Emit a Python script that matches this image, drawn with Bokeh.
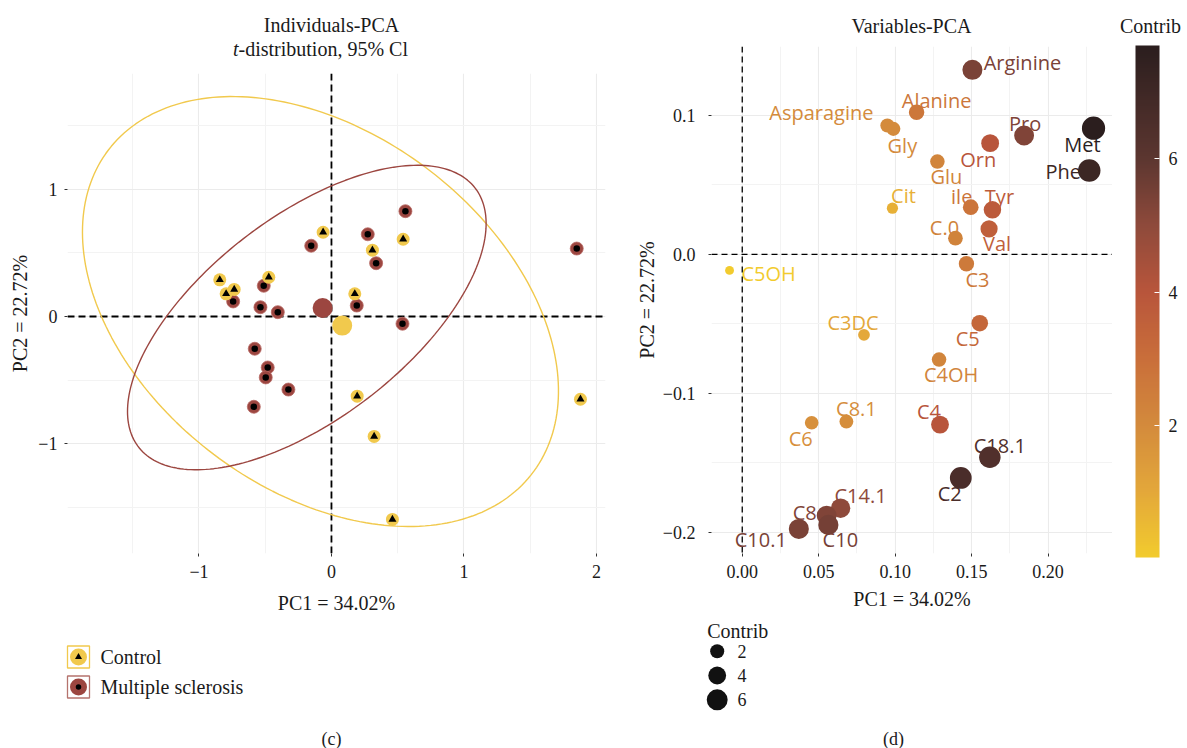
import numpy as np
from bokeh.plotting import figure
from bokeh.layouts import row, column
from bokeh.models import (ColumnDataSource, Range1d, FixedTicker, Span,
                          ColorBar, LinearColorMapper)
from bokeh.transform import transform
from bokeh.core.properties import value
from bokeh.embed import file_html
from bokeh.resources import INLINE

# ---------------- data : individuals ----------------
groups = ["Control", "Multiple sclerosis"]
ctrl_pc1 = [-0.843, -0.795, -0.734, -0.473, -0.063, 0.309, 0.541, 0.176, 0.194, 0.322, 0.460, 1.879]
ctrl_pc2 = [0.288, 0.178, 0.212, 0.308, 0.661, 0.520, 0.606, 0.178, -0.625, -0.941, -1.592, -0.649]
ms_pc1 = [0.558, 0.274, -0.153, 0.337, -0.511, -0.742, -0.536, -0.405, 0.191, 0.536,
          -0.579, -0.481, -0.496, -0.325, -0.586, 1.851]
ms_pc2 = [0.826, 0.645, 0.555, 0.418, 0.241, 0.118, 0.073, 0.034, 0.086, -0.057,
          -0.253, -0.400, -0.478, -0.573, -0.708, 0.533]
# 95% t-distribution ellipses: centre and shape matrix [sxx, sxy, syy]
ell_ctrl_center = [-0.083, 0.039]
ell_ctrl_shape = [3.226, -1.12, 2.843]
ell_ms_center = [-0.186, -0.008]
ell_ms_shape = [1.831, 0.997, 1.426]

ind_x_ticks = [-1, 0, 1, 2]
ind_x_labels = ["\u22121", "0", "1", "2"]
ind_y_ticks = [-1, 0, 1]
ind_y_labels = ["\u22121", "0", "1"]

# ---------------- data : variables ----------------
var_names = ["Arginine", "Alanine", "Asparagine", "Gly", "Pro", "Orn", "Met", "Phe", "Glu",
             "Cit", "ile", "Tyr", "Val", "C.0", "C3", "C5OH", "C3DC", "C5", "C4OH", "C8.1",
             "C6", "C4", "C18.1", "C2", "C14.1", "C8", "C10", "C10.1"]
var_pc1 = [0.1505, 0.1140, 0.0949, 0.0988, 0.1843, 0.1621, 0.2297, 0.2269, 0.1276,
           0.0982, 0.1494, 0.1636, 0.1614, 0.1394, 0.1466, -0.0083, 0.0796, 0.1553, 0.1287, 0.0681,
           0.0454, 0.1293, 0.1619, 0.1429, 0.0643, 0.0552, 0.0563, 0.0370]
var_pc2 = [0.1329, 0.1024, 0.0928, 0.0904, 0.0856, 0.0801, 0.0909, 0.0604, 0.0669,
           0.0333, 0.0340, 0.0321, 0.0184, 0.0117, -0.0067, -0.0115, -0.0579, -0.0495, -0.0757, -0.1203,
           -0.1212, -0.1225, -0.1460, -0.1609, -0.1827, -0.1880, -0.1947, -0.1976]
var_contrib = [5.4, 2.7, 2.0, 2.0, 5.3, 4.0, 7.7, 7.1, 2.2,
               0.8, 2.8, 3.8, 3.6, 2.3, 2.6, 0.02, 1.0, 3.3, 2.2, 1.9,
               1.8, 4.0, 6.4, 6.6, 5.0, 5.3, 5.5, 5.4]
var_x_ticks = [0.0, 0.05, 0.10, 0.15, 0.20]
var_x_labels = ["0.00", "0.05", "0.10", "0.15", "0.20"]
var_y_ticks = [-0.2, -0.1, 0.0, 0.1]
var_y_labels = ["\u22120.2", "\u22120.1", "0.0", "0.1"]
contrib_ticks = [2, 4, 6]

# ---------------- layout / style (not data) ----------------
label_dx = [50, 20, -66, 9, 1, -12, -11, -26, 9,
            11, -9, 7, 8, -11, 11, 39, -11, -12, 12, 10,
            -11, -11, 10, -11, 20, -22, 12, -38]
label_dy = [-7, -12, -13, 17, -12, 16, 16, 1, 15,
            -13, -11, -13, 15, -11, 16, 3, -12, 15, 15, -13,
            16, -13, -12, 16, -13, -3, 15, 11]

SERIF = "Liberation Serif"
SANS = "Open Sans"
TXT = "#1a1a1a"
CTRL_COL = "#f1c94d"
MS_COL = "#9c4640"
GRID = "#ebebeb"
MINOR_GRID = "#f3f3f3"

stops = [(0.00, "#f2cb2e"), (0.13, "#e3a73a"), (0.26, "#d38a3c"), (0.39, "#c96e3a"),
         (0.52, "#b8553b"), (0.65, "#8e4a3b"), (0.78, "#5c3630"), (1.00, "#2b1e1e")]


def hex2rgb(h):
    return np.array([int(h[i:i + 2], 16) for i in (1, 3, 5)], dtype=float)


def make_palette(stops, n=256):
    pos = np.array([s[0] for s in stops])
    cols = np.array([hex2rgb(s[1]) for s in stops])
    out = []
    for t in np.linspace(0, 1, n):
        rgb = [np.interp(t, pos, cols[:, k]) for k in range(3)]
        out.append("#%02x%02x%02x" % tuple(int(round(v)) for v in rgb))
    return out


def size_of(c):
    return float(np.sqrt(78 + 60 * c))


def ellipse_xy(center, shape, n=240):
    m = np.array([[shape[0], shape[1]], [shape[1], shape[2]]])
    vals, vecs = np.linalg.eigh(m)
    t = np.linspace(0, 2 * np.pi, n)
    circ = np.vstack([np.cos(t), np.sin(t)])
    pts = vecs @ np.diag(np.sqrt(vals)) @ circ
    return pts[0] + center[0], pts[1] + center[1]


def bare(p):
    p.outline_line_color = None
    p.grid.visible = False
    return p


def strip(width, height, x0, x1, left, right):
    # a text-only strip whose frame maps 1:1 to page pixels
    return bare(figure(width=width, height=height, x_range=Range1d(x0, x1),
                       y_range=Range1d(height, 0), x_axis_type=None, y_axis_type=None,
                       title=None, min_border_left=left, min_border_right=right,
                       min_border_top=0, min_border_bottom=0,
                       output_backend="svg", toolbar_location=None))


def style_axes(p, xticks, xlabels, xminor, yticks, ylabels, yminor, xlab, ylab, x_stand, y_stand):
    p.xaxis.ticker = FixedTicker(ticks=xticks, minor_ticks=xminor)
    p.yaxis.ticker = FixedTicker(ticks=yticks, minor_ticks=yminor)
    p.xaxis.major_label_overrides = dict(zip(xticks, xlabels))
    p.yaxis.major_label_overrides = dict(zip(yticks, ylabels))
    p.xaxis.axis_label = xlab
    p.yaxis.axis_label = ylab
    for ax in (p.xaxis[0], p.yaxis[0]):
        ax.axis_line_color = None
        ax.major_tick_line_color = "#333333"
        ax.major_tick_in = 0
        ax.major_tick_out = 3
        ax.minor_tick_line_color = None
        ax.major_label_text_font = SERIF
        ax.major_label_text_font_size = "18px"
        ax.major_label_text_color = TXT
        ax.axis_label_text_font = SERIF
        ax.axis_label_text_font_style = "normal"
        ax.axis_label_text_font_size = "20px"
        ax.axis_label_text_color = TXT
    p.xaxis.major_label_standoff = x_stand[0]
    p.xaxis.axis_label_standoff = x_stand[1]
    p.yaxis.major_label_standoff = y_stand[0]
    p.yaxis.axis_label_standoff = y_stand[1]
    for g in (p.xgrid[0], p.ygrid[0]):
        g.grid_line_color = GRID
        g.grid_line_width = 1.1
        g.minor_grid_line_color = MINOR_GRID
        g.minor_grid_line_width = 1


def title_text(p, x, y, txt, align="center", style="normal"):
    p.text([x], [y], text=[txt], text_align=align, text_baseline="middle",
           text_font=value(SERIF), text_font_size="20px", text_font_style=style, text_color=TXT)


# =============== left panel title strip ===============
pTL = strip(627, 62, 67, 605, 67, 22)
title_text(pTL, 331, 24, "Individuals-PCA")
title_text(pTL, 238, 48, "t", align="right", style="italic")
title_text(pTL, 238, 48, "-distribution, 95% Cl", align="left")

# =============== left panel : individuals ===============
pL = figure(width=627, height=558, title=None,
            x_range=Range1d(-1.992, 2.068), y_range=Range1d(-1.859, 1.906),
            min_border_left=67, min_border_right=22, min_border_top=11, min_border_bottom=67,
            output_backend="svg", toolbar_location=None)
pL.outline_line_color = None
style_axes(pL, ind_x_ticks, ind_x_labels, [-1.5, -0.5, 0.5, 1.5],
           ind_y_ticks, ind_y_labels, [-1.5, -0.5, 0.5, 1.5],
           "PC1 = 34.02%", "PC2 = 22.72%", (7, 11), (6, 4))

pL.add_layout(Span(location=0, dimension="height", line_color="black", line_width=1.8,
                   line_dash="7 4", level="underlay"))
pL.add_layout(Span(location=0, dimension="width", line_color="black", line_width=1.8,
                   line_dash="7 4", level="underlay"))

ex, ey = ellipse_xy(ell_ctrl_center, ell_ctrl_shape)
pL.line(ex, ey, line_color=CTRL_COL, line_width=1.4)
ex, ey = ellipse_xy(ell_ms_center, ell_ms_shape)
pL.line(ex, ey, line_color=MS_COL, line_width=1.4)

ctrl_src = ColumnDataSource(dict(x=ctrl_pc1, y=ctrl_pc2))
ms_src = ColumnDataSource(dict(x=ms_pc1, y=ms_pc2))
pL.scatter("x", "y", source=ms_src, size=13, fill_color=MS_COL, line_color="#b86a64", line_width=0.8)
pL.scatter("x", "y", source=ms_src, size=6.5, fill_color="black", line_color=None)
pL.scatter("x", "y", source=ctrl_src, size=13, fill_color=CTRL_COL, line_color=None)
pL.scatter("x", "y", source=ctrl_src, marker="triangle", size=8, fill_color="black", line_color=None)
pL.scatter([float(np.mean(ms_pc1))], [float(np.mean(ms_pc2))], size=20, fill_color=MS_COL, line_color=None)
pL.scatter([float(np.mean(ctrl_pc1))], [float(np.mean(ctrl_pc2))], size=20, fill_color=CTRL_COL, line_color=None)

# =============== right panel title strip ===============
pTR = strip(485, 40, 711, 1112, 84, 0)
title_text(pTR, 911, 25, "Variables-PCA")

# =============== right panel : variables ===============
palette = make_palette(stops)
mapper = LinearColorMapper(palette=palette, low=min(var_contrib), high=max(var_contrib))

pR = figure(width=485, height=580, title=None,
            x_range=Range1d(-0.0201, 0.2421), y_range=Range1d(-0.2153, 0.1497),
            min_border_left=84, min_border_right=0, min_border_top=6, min_border_bottom=67,
            output_backend="svg", toolbar_location=None)
pR.outline_line_color = None
style_axes(pR, var_x_ticks, var_x_labels, [0.025, 0.075, 0.125, 0.175, 0.225],
           var_y_ticks, var_y_labels, [-0.15, -0.05, 0.05],
           "PC1 = 34.02%", "PC2 = 22.72%", (7, 7), (12, 2))

pR.add_layout(Span(location=0, dimension="height", line_color="black", line_width=1.3,
                   line_dash="6 4", level="underlay"))
pR.add_layout(Span(location=0, dimension="width", line_color="black", line_width=1.3,
                   line_dash="6 4", level="underlay"))

var_src = ColumnDataSource(dict(name=var_names, x=var_pc1, y=var_pc2, contrib=var_contrib,
                                size=[size_of(c) for c in var_contrib],
                                dx=label_dx, dy=label_dy))
pR.scatter("x", "y", size="size", source=var_src,
           fill_color=transform("contrib", mapper), line_color=None)
pR.text("x", "y", text="name", x_offset="dx", y_offset="dy", source=var_src,
        text_color=transform("contrib", mapper), text_font=value(SANS),
        text_font_size="20px", text_align="center", text_baseline="middle")

# =============== colour bar column ===============
pTCB = strip(75, 40, 1112, 1187, 0, 0)
title_text(pTCB, 1150, 25, "Contrib")

pCB = bare(figure(width=75, height=580, x_range=Range1d(0, 1), y_range=Range1d(0, 1),
                  x_axis_type=None, y_axis_type=None, title=None,
                  min_border_left=0, min_border_right=0, min_border_top=6, min_border_bottom=67,
                  output_backend="svg", toolbar_location=None))
cb = ColorBar(color_mapper=mapper, width=24, height=512,
              ticker=FixedTicker(ticks=contrib_ticks),
              major_label_text_font=SERIF, major_label_text_font_size="18px",
              major_label_text_color=TXT, label_standoff=9,
              major_tick_line_color="white", major_tick_in=5, major_tick_out=0,
              bar_line_color=None, border_line_color=None, background_fill_color=None,
              padding=0, margin=0, location=(23, -4))
pCB.add_layout(cb)

# =============== legends and captions strip ===============
pB = strip(1187, 128, 0, 1187, 0, 0)
key_y = [36.5, 66.5]
key_x = [78, 78]
pB.rect(key_x, key_y, width=22, height=22, fill_color=None,
        line_color=[CTRL_COL, "#b5736d"], line_width=1.3)
pB.scatter(key_x, key_y, size=17, fill_color=[CTRL_COL, MS_COL], line_color=None)
pB.scatter([key_x[0]], [key_y[0]], marker="triangle", size=7, fill_color="black", line_color=None)
pB.scatter([key_x[1]], [key_y[1]], size=5.5, fill_color="black", line_color=None)
pB.text([100, 100], key_y, text=groups, text_align="left", text_baseline="middle",
        text_font=value(SERIF), text_font_size="20px", text_color=TXT)

leg_y = [30.7, 55, 79.3]
pB.text([706.7], [10], text=["Contrib"], text_align="left", text_baseline="middle",
        text_font=value(SERIF), text_font_size="20px", text_color=TXT)
pB.scatter([716.7] * 3, leg_y, size=[size_of(c) for c in contrib_ticks],
           fill_color="#111111", line_color=None)
pB.text([737] * 3, leg_y, text=[str(c) for c in contrib_ticks], text_align="left",
        text_baseline="middle", text_font=value(SERIF), text_font_size="18px", text_color=TXT)

pB.text([331, 893], [118, 118], text=["(c)", "(d)"], text_align="center", text_baseline="middle",
        text_font=value(SERIF), text_font_size="18px", text_color=TXT)

layout = column(row(column(pTL, pL), column(pTR, pR), column(pTCB, pCB)), pB)
open("out.html", "w").write(file_html(layout, INLINE))
